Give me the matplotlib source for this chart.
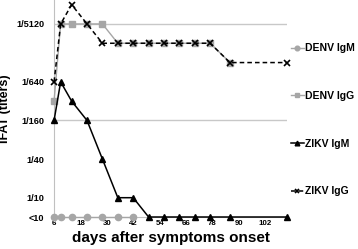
import numpy as np
import matplotlib
matplotlib.use("Agg")
import matplotlib.pyplot as plt

# dias depois do inicio dos sintomas
dias = [6, 9, 14, 21, 28, 35, 42, 49, 56, 63, 70, 77, 86, 112]

# titulos (5 = "<10")
denv_igm = [5, 5, 5, 5, 5, 5, 5]
denv_igg = [320, 5120, 5120, 5120, 5120, 2560, 2560, 2560, 2560, 2560, 2560, 2560, 1280]
zikv_igm = [160, 640, 320, 160, 40, 10, 10, 5, 5, 5, 5, 5, 5, 5]
zikv_igg = [640, 5120, 10240, 5120, 2560, 2560, 2560, 2560, 2560, 2560, 2560, 2560, 1280, 1280]

y_ticks = [5, 10, 40, 160, 640, 5120]
y_labels = ["<10", "1/10", "1/40", "1/160", "1/640", "1/5120"]
x_ticks = [6, 18, 30, 42, 54, 66, 78, 90, 102]

plt.rcParams['font.family'] = ['Liberation Sans', 'DejaVu Sans']
plt.rcParams['font.weight'] = 'bold'

cinza = "#a6a6a6"
fig = plt.figure(figsize=(3.58, 2.49), dpi=100)
ax = fig.add_axes([0.151, 0.1285, 0.651, 0.8715])

ax.set_yscale('log', base=2)
ax.set_ylim(5, 12100)
ax.set_xlim(6, 112)

# linhas de grade so em 1/160 e 1/5120
for g in [160, 5120]:
    ax.axhline(g, color="#c8c8c8", lw=1, zorder=0)

ax.plot(dias[:len(denv_igm)], denv_igm, color=cinza, lw=1, marker='o', ms=4.5,
        mfc=cinza, mec=cinza, label="DENV IgM", clip_on=False, zorder=3)
ax.plot(dias[:len(denv_igg)], denv_igg, color=cinza, lw=1, marker='s', ms=4,
        mfc=cinza, mec=cinza, label="DENV IgG", clip_on=False, zorder=3)
ax.plot(dias, zikv_igm, color="black", lw=1.1, marker='^', ms=4.5,
        label="ZIKV IgM", clip_on=False, zorder=4)
ax.plot(dias, zikv_igg, color="black", lw=1.1, ls=(0, (3, 2)), marker='x', ms=4.5,
        mew=1.2, label="ZIKV IgG", clip_on=False, zorder=5)

ax.set_yticks(y_ticks)
ax.set_yticklabels(y_labels)
ax.minorticks_off()
ax.set_xticks(x_ticks)
ax.tick_params(axis='y', length=0, pad=7, labelsize=6.6)
ax.tick_params(axis='x', length=0, pad=2, labelsize=5.7)

for s in ['top', 'right']:
    ax.spines[s].set_visible(False)
ax.spines['left'].set_color("#c0c0c0")
ax.spines['bottom'].set_color("#c0c0c0")

ax.set_xlabel("days after symptoms onset", fontsize=11, fontweight='bold', labelpad=3)
ax.set_ylabel("IFAT (titers)", fontsize=9, fontweight='bold', labelpad=4)

# legenda do lado direito, com handles curtos
ax.legend(loc='upper left', bbox_to_anchor=(0.812, 0.826), bbox_transform=fig.transFigure,
          frameon=False, fontsize=7.5, handlelength=1.3, handletextpad=0.12,
          labelspacing=3.62, borderaxespad=0, borderpad=0, markerscale=0.75)

fig.savefig("out.png", dpi=100)
